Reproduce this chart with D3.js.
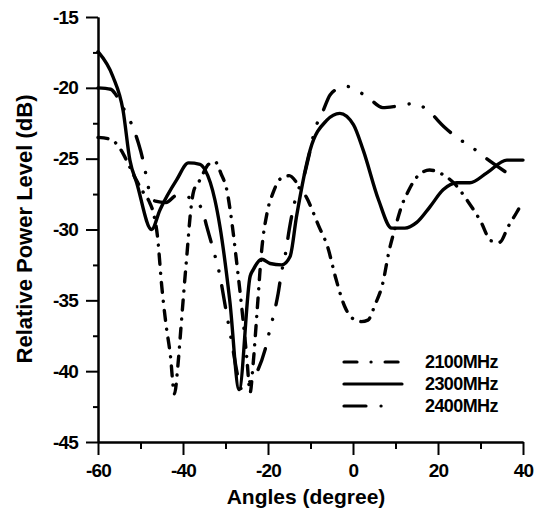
<!DOCTYPE html>
<html>
<head>
<meta charset="utf-8">
<script src="https://cdn.jsdelivr.net/npm/d3@7"></script>
<style>
  body { margin: 0; background: #fff; }
  svg text { font-family: "Liberation Sans", Arial, sans-serif; font-weight: bold; fill: #000; }
</style>
</head>
<body>
<div id="chart"></div>
<script>
// data
var ang2100 = [-60, -57.5, -55.5, -54, -52.5, -51, -49.5, -48, -47, -46, -45, -44, -43, -42, -41.2, -40.5, -39.7, -39, -38.3, -37.5, -36, -34, -32.5, -31, -29.7, -28.5, -27.3, -26, -25, -24.2, -23.5, -22.5, -21.5, -20.2, -18.8, -17, -15, -13, -11, -8, -6, -4, -2, 0, 2, 3.5, 5.2, 7, 8.5, 10, 11.5, 13, 15, 18, 21, 24, 27, 30, 32.5, 34.5, 36.5, 38.5, 40];
var db2100  = [-23.5, -23.6, -24, -24.7, -25.6, -26.5, -27.3, -28, -28.8, -30.5, -34, -36.7, -38.8, -41.6, -39.6, -37, -34, -31.5, -29, -27.3, -26.5, -25.4, -25.2, -26.1, -27.2, -29.5, -32.5, -36, -39, -41.5, -39.5, -35.5, -31.5, -28.8, -27.4, -26.4, -26.2, -26.8, -27.7, -29.8, -31.2, -33.5, -35.4, -36.3, -36.5, -36.4, -35.3, -33.8, -31.5, -29.8, -28.3, -27.3, -26.3, -25.8, -26.1, -26.8, -28, -29.4, -30.8, -30.9, -29.8, -28.8, -28];

var ang2300 = [-60, -56.5, -54.1, -52.5, -50.9, -47.4, -45.4, -41.5, -38.7, -36, -34.8, -32.5, -31.3, -29, -26.8, -24.2, -23.5, -21.5, -19.5, -16.8, -14.8, -13.3, -10.1, -6.2, -3.1, 0.1, 2.4, 6, 9.1, 12.2, 15, 18.1, 21.2, 24.4, 27.5, 31.5, 36.2, 40];
var db2300  = [-17.45, -19.2, -21.6, -25.1, -26.7, -30, -28.6, -26.5, -25.3, -25.4, -25.8, -27.9, -29.8, -35, -41.3, -33.3, -32.85, -32.1, -32.4, -32.5, -31.9, -29.1, -24.4, -22.3, -21.8, -22.6, -24.4, -27.9, -29.9, -29.9, -29.5, -28.4, -27.2, -26.7, -26.7, -26, -25.1, -25.1];

var ang2400 = [-60, -57, -56, -54.5, -53, -51.5, -50.5, -49.5, -48.8, -48, -46.5, -44, -41.5, -38, -35.5, -34.4, -33, -31.5, -30, -28.5, -27, -26, -25, -22.5, -20.7, -19.5, -18.4, -17.6, -16.8, -16, -15, -14.4, -13, -11.8, -10.6, -9, -7, -5.4, -3, -1.5, 1, 4, 7, 10.3, 14.6, 17.6, 21.6, 24.4, 28, 31, 36.2];
var db2400  = [-20, -20.1, -20.4, -21.2, -22, -23, -23.9, -25, -26, -27.2, -28, -28.1, -27.6, -27.8, -28.6, -29.8, -31.3, -33, -35.5, -38, -40.5, -41.4, -41, -40, -38.5, -37, -35.7, -34.5, -33, -31.9, -30, -29, -27.3, -26.5, -25.1, -23, -21.6, -20.5, -20, -19.9, -20.2, -20.8, -21.4, -21.3, -21.1, -21.6, -22.8, -23.5, -24.2, -24.9, -26];

var seriesNames = ["2100MHz", "2300MHz", "2400MHz"];
var seriesDash = ["10,9,0.1,9", null, "22,15,0.1,15,0.1,15"];

var xTicks = [-60, -40, -20, 0, 20, 40];
var xMinor = [-50, -30, -10, 10, 30];
var yTicks = [-45, -40, -35, -30, -25, -20, -15];
var yMinor = [-42.5, -37.5, -32.5, -27.5, -22.5, -17.5];

var width = 547, height = 510;
var svg = d3.select("#chart").append("svg")
  .attr("width", width)
  .attr("height", height);

var x = d3.scaleLinear().domain([-60, 40]).range([98, 523]);
var y = d3.scaleLinear().domain([-45, -15]).range([442, 17]);

var plain = function(d) { return String(d); }; // hyphen, not unicode minus

// axes
var gx = svg.append("g").attr("transform", "translate(0," + y(-45) + ")");
gx.call(d3.axisBottom(x).tickValues(xTicks).tickFormat(plain).tickSize(13).tickPadding(9).tickSizeOuter(0));
gx.append("g").call(d3.axisBottom(x).tickValues(xMinor).tickSize(7).tickFormat("").tickSizeOuter(0));

var gy = svg.append("g").attr("transform", "translate(" + x(-60) + ",0)");
gy.call(d3.axisLeft(y).tickValues(yTicks).tickFormat(plain).tickSize(12).tickPadding(8).tickSizeOuter(0));
gy.append("g").call(d3.axisLeft(y).tickValues(yMinor).tickSize(5).tickFormat("").tickSizeOuter(0));

svg.selectAll(".domain").attr("stroke", "#000").attr("stroke-width", 2);
svg.selectAll(".tick line").attr("stroke", "#000").attr("stroke-width", 2);
svg.selectAll(".tick text")
  .style("font-size", "19px")
  .style("letter-spacing", "-0.8px");

// axis titles
svg.append("text")
  .attr("x", 306).attr("y", 504)
  .attr("text-anchor", "middle")
  .style("font-size", "21px")
  .text("Angles (degree)");

svg.append("text")
  .attr("transform", "translate(32,229) rotate(-90)")
  .attr("text-anchor", "middle")
  .style("font-size", "22px")
  .text("Relative Power Level (dB)");

// curves
var line = d3.line()
  .x(function(d) { return x(d[0]); })
  .y(function(d) { return y(d[1]); })
  .curve(d3.curveMonotoneX);

var series = [d3.zip(ang2100, db2100), d3.zip(ang2300, db2300), d3.zip(ang2400, db2400)];

series.forEach(function(s, i) {
  svg.append("path")
    .datum(s)
    .attr("d", line)
    .attr("fill", "none")
    .attr("stroke", "#000")
    .attr("stroke-width", 3.4)
    .attr("stroke-linecap", "round")
    .attr("stroke-linejoin", "round")
    .attr("stroke-dasharray", seriesDash[i]);
});

// legend
var legend = svg.append("g");
seriesNames.forEach(function(name, i) {
  var ly = 362 + i * 22;
  legend.append("line")
    .attr("x1", 344).attr("x2", i === 2 ? 390 : 402)
    .attr("y1", ly).attr("y2", ly)
    .attr("stroke", "#000")
    .attr("stroke-width", 3.2)
    .attr("stroke-linecap", "round")
    .attr("stroke-dasharray", i === 0 ? "13,14,0.1,14" : seriesDash[i]);
  legend.append("text")
    .attr("x", 425).attr("y", ly)
    .attr("dy", "0.36em")
    .style("font-size", "18px")
    .style("letter-spacing", "-0.6px")
    .text(name);
});
</script>
</body>
</html>
